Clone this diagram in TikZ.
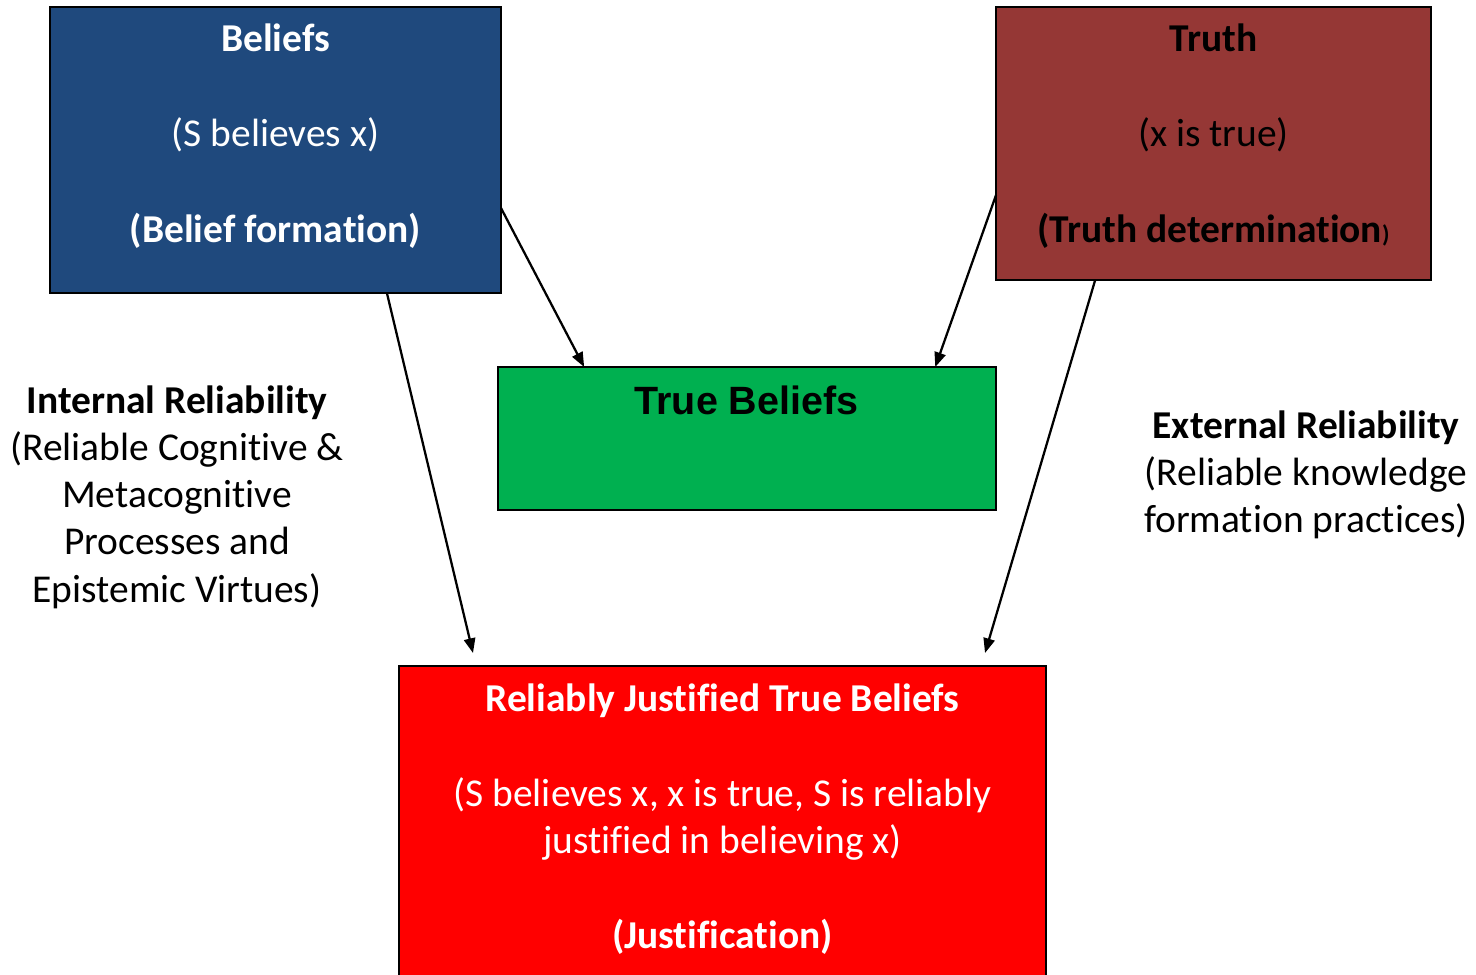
\documentclass[tikz,border=0pt]{standalone}
\usepackage{fontspec}
\setmainfont{Carlito}[Ligatures=NoCommon]
\newfontfamily\arialfont{Liberation Sans}
\usetikzlibrary{arrows.meta,calc}

\definecolor{beliefblue}{HTML}{1F497D}
\definecolor{truthred}{HTML}{953735}
\definecolor{truegreen}{HTML}{00B050}
\definecolor{jtbred}{HTML}{FF0000}

\tikzset{
  box/.style={draw=black, line width=1pt, inner sep=0pt, outer sep=0pt},
  txt/.style={anchor=base, inner sep=0pt, font=\fontsize{29.6pt}{35pt}\selectfont},
  btxt/.style={txt, font=\fontsize{29.6pt}{35pt}\selectfont\bfseries},
  link/.style={draw=black, line width=1.7pt, -{Triangle[length=11pt, width=8.5pt]}}
}

\begin{document}
\begin{tikzpicture}[x=0.75pt, y=-0.75pt]
\useasboundingbox (0,0) rectangle (1476,974);
\clip (0,0) rectangle (1476,974);

% boxes
\node[box, fill=beliefblue, minimum width=338.25pt, minimum height=214.5pt] (beliefs) at (275.5,150) {};
\node[box, fill=truthred, minimum width=326.25pt, minimum height=204.75pt] (truth) at (1213.5,143.5) {};
\node[box, fill=truegreen, minimum width=373.5pt, minimum height=107.25pt] (tb) at (747,438.5) {};
\node[box, fill=jtbred, minimum width=485.25pt, minimum height=250.5pt] (jtb) at (722.5,833) {};

% beliefs box text
\node[btxt, text=white] (b1) at (275.5,51) {Beliefs};
\node[txt, text=white] (b2) at (275.5,146) {(S believes x)};
\node[btxt, text=white] (b3) at (275.5,242) {(Belief formation)};

% truth box text
\node[btxt, text=black] (t1) at (1213.5,51) {Truth};
\node[txt, text=black] (t2) at (1213.5,146) {(x is true)};
\node[btxt, text=black] (t3) at (1213.5,242) {(Truth determination{\fontsize{18pt}{20pt}\selectfont)}};

% true beliefs
\node[anchor=base, inner sep=0pt, font=\arialfont\bfseries\fontsize{29.6pt}{34pt}\selectfont] (tb1) at (746.5,414) {True Beliefs};

% justified true beliefs text
\node[btxt, text=white] (j1) at (722.5,711) {Reliably Justified True Beliefs};
\node[txt, text=white] (j2) at (722.5,806) {(S believes x, x is true, S is reliably};
\node[txt, text=white] (j3) at (722.5,853) {justified in believing x)};
\node[btxt, text=white] (j4) at (722.5,948) {(Justification)};

% internal reliability
\node[btxt] (i1) at (177,413) {Internal Reliability};
\node[txt] (i2) at (177,460) {(Reliable Cognitive \&};
\node[txt] (i3) at (177,507) {Metacognitive};
\node[txt] (i4) at (177,554) {Processes and};
\node[txt] (i5) at (177,602) {Epistemic Virtues)};

% external reliability
\node[btxt] (e1) at (1306,438) {External Reliability};
\node[txt] (e2) at (1306,485) {(Reliable knowledge};
\node[txt] (e3) at (1306,532) {formation practices)};

% connector end points
\coordinate (jtbL) at (473,653);
\coordinate (jtbR) at (985,653);

% connectors
\draw[link] ($(beliefs.north east)!0.703!(beliefs.south east)$) -- ($(tb.north west)!0.173!(tb.north east)$);
\draw[link] ($(truth.north west)!0.689!(truth.south west)$) -- ($(tb.north west)!0.878!(tb.north east)$);
\draw[link] ($(beliefs.south west)!0.747!(beliefs.south east)$) -- (jtbL);
\draw[link] ($(truth.south west)!0.228!(truth.south east)$) -- (jtbR);
\end{tikzpicture}
\end{document}
